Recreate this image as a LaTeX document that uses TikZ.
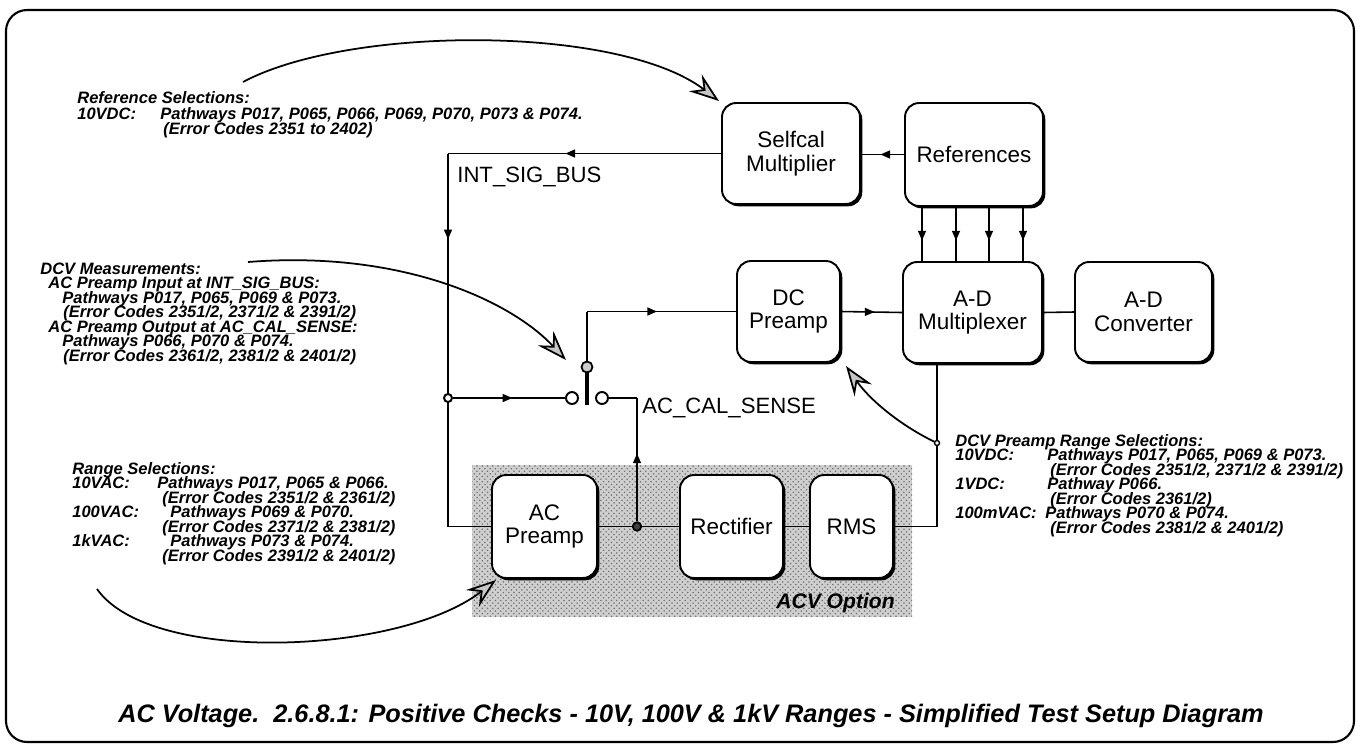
\documentclass[tikz,border=0pt]{standalone}
\usepackage{fontspec}
\setmainfont{Liberation Sans}
\newfontfamily\annfont[FakeStretch=1.0]{Liberation Sans}
\usetikzlibrary{arrows.meta,shadows,patterns,decorations.markings}
\tikzset{
  blk/.style={draw, line width=1.1pt, rounded corners=8pt, fill=white, align=center,
    font=\fontsize{12.8}{13.5}\selectfont, inner sep=0pt,
    drop shadow={shadow xshift=1.3pt, shadow yshift=-1.3pt, opacity=1, fill=black}},
  ann/.style={anchor=base west, inner sep=0pt, font=\annfont\bfseries\itshape\fontsize{9.4}{8.1}\selectfont},
  lbl/.style={anchor=base west, inner sep=0pt, font=\fontsize{12.6}{13.5}\selectfont},
  wire/.style={line width=0.9pt},
  midarrow/.style={postaction={decorate,decoration={markings,
      mark=at position #1 with {\arrow{Triangle[length=5.5pt,width=4.5pt]}}}}},
  note/.style={line width=1pt, -{Stealth[length=17pt,width=12pt,inset=6pt,fill=gray!45]}},
  contact/.style={circle, draw, line width=1.1pt, fill=white, minimum size=0.24cm, inner sep=0pt},
  jdot/.style={circle, draw, line width=1.1pt, fill=white, minimum size=0.16cm, inner sep=0pt},
  jdotb/.style={circle, draw, line width=1pt, fill=black!75, minimum size=0.17cm, inner sep=0pt},
}
\begin{document}
\begin{tikzpicture}[x=0.02cm,y=-0.02cm]
\useasboundingbox (0,0) rectangle (1360,748);
\fill[white] (0,0) rectangle (1360,748);
% outer frame
\draw[line width=1.2pt, rounded corners=12pt] (6,10) rectangle (1354,742);
% ACV option shaded area
\fill[gray!38] (472,465) rectangle (912,617);
\fill[pattern=crosshatch dots, pattern color=black!55] (472,465) rectangle (912,617);
\node[anchor=base east, inner sep=0pt, font=\bfseries\itshape\fontsize{12}{13}\selectfont] (acvopt) at (895,608) {ACV Option};

% blocks
\node[blk, minimum width=2.76cm, minimum height=2.02cm] (selfcal) at (791,153.5) {Selfcal\\Multiplier};
\node[blk, minimum width=2.76cm, minimum height=2.06cm] (refs) at (974,154.5) {References};
\node[blk, minimum width=2.06cm, minimum height=2.02cm] (dcpre) at (788.5,311.5) {DC\\Preamp};
\node[blk, minimum width=2.78cm, minimum height=2.02cm] (mux) at (972.5,312.5) {A-D\\Multiplexer};
\node[blk, minimum width=2.74cm, minimum height=2.0cm] (adc) at (1143.5,312) {A-D\\Converter};
\node[blk, minimum width=2.1cm, minimum height=2.06cm] (acpre) at (544.5,526.5) {AC\\Preamp};
\node[blk, minimum width=2.06cm, minimum height=2.06cm] (rect) at (731.5,526.5) {Rectifier};
\node[blk, minimum width=1.66cm, minimum height=2.06cm] (rms) at (851.5,526.5) {RMS};

% switch
\node[contact] (swl) at (572,398) {};
\node[contact] (swr) at (602,398) {};
\coordinate (blade) at (587,405);
\draw[line width=2.6pt] (587,367) -- (blade);
\node[circle, draw, line width=1pt, fill=gray!40, minimum size=0.22cm, inner sep=0pt] (pole) at (587,367) {};
\node[jdotb] (jn2) at (637,526.5) {};

% labels
\node[lbl] (intsig) at (457,182) {INT\_SIG\_BUS};
\node[lbl] (acsense) at (642,413) {AC\_CAL\_SENSE};

% wires
\coordinate (c1) at (448,153.5);
\coordinate (c2) at (c1 |- acpre.west);
\draw[wire, midarrow=0.57] (selfcal.west) -- (c1);
\draw[wire, midarrow=0.23] (c1) -- (c2);
\draw[wire] (c2) -- (acpre.west);
\node[jdot] (jn1) at (c1 |- swl) {};
\draw[wire, midarrow=0.53] (jn1.east) -- (swl.west);
\coordinate (c3) at (pole |- dcpre.west);
\draw[wire] (pole.north) -- (c3);
\draw[wire, midarrow=0.47] (c3) -- (dcpre.west);
\coordinate (c4) at (jn2 |- swr);
\draw[wire] (acpre.east) -- (jn2);
\draw[wire] (jn2) -- (rect.west);
\draw[wire, midarrow=0.55] (jn2.north) -- (c4);
\draw[wire] (c4) -- (swr.east);
\draw[wire] (rect.east) -- (rms.west);
\coordinate (c5) at (937,526.5);
\coordinate (c6) at (c5 |- mux.south);
\draw[wire] (rms.east) -- (c5) -- (c6);
\draw[wire, midarrow=0.55] (dcpre.east) -- (mux.west);
\draw[wire] (mux.east) -- (adc.west);
\draw[wire, midarrow=0.55] (refs.west) -- (refs.west -| selfcal.east);
\foreach \dx [count=\i] in {-52,-18,15,49} {
  \coordinate (r\i) at ([shift={(\dx,0)}]refs.south);
  \draw[wire, midarrow=0.62] (r\i) -- (r\i |- mux.north);
}
\node[circle, draw, line width=0.8pt, fill=white, minimum size=0.1cm, inner sep=0pt] (sc) at (937,443) {};

% annotation arrows
\coordinate (n1s) at (243,82);
\coordinate (n1e) at (719,101);
\draw[note] (n1s) .. controls (350,25) and (620,25) .. (n1e);
\coordinate (n2s) at (248,262);
\coordinate (n2e) at (566,360);
\draw[note] (n2s) .. controls (400,250) and (510,300) .. (n2e);
\coordinate (n3e) at (846,366);
\draw[note] (sc) .. controls (900,425) and (870,400) .. (n3e);
\coordinate (n4s) at (97,589);
\coordinate (n4e) at (496,580);
\draw[note] (n4s) .. controls (150,665) and (400,655) .. (n4e);

% annotation texts
\node[ann] (a1) at (77,103) {Reference Selections:};
\node[ann] (a2) at (77,119) {10VDC:};
\node[ann] (a3) at (160,119) {Pathways P017, P065, P066, P069, P070, P073 \& P074.};
\node[ann] (a4) at (163,134) {(Error Codes 2351 to 2402)};

\node[ann] (b1) at (40,274) {DCV Measurements:};
\node[ann] (b2) at (48,288.5) {AC Preamp Input at INT\_SIG\_BUS:};
\node[ann] (b3) at (62,303) {Pathways P017, P065, P069 \& P073.};
\node[ann] (b4) at (63,317.5) {(Error Codes 2351/2, 2371/2 \& 2391/2)};
\node[ann] (b5) at (48,332) {AC Preamp Output at AC\_CAL\_SENSE:};
\node[ann] (b6) at (62,346.5) {Pathways P066, P070 \& P074.};
\node[ann] (b7) at (63,361) {(Error Codes 2361/2, 2381/2 \& 2401/2)};

\node[ann] (d1) at (72,474) {Range Selections:};
\node[ann] (d2) at (72,488.5) {10VAC:};
\node[ann] (d3) at (157,488.5) {Pathways P017, P065 \& P066.};
\node[ann] (d4) at (162,503) {(Error Codes 2351/2 \& 2361/2)};
\node[ann] (d5) at (72,517.5) {100VAC:};
\node[ann] (d6) at (170,517.5) {Pathways P069 \& P070.};
\node[ann] (d7) at (162,532) {(Error Codes 2371/2 \& 2381/2)};
\node[ann] (d8) at (72,546.5) {1kVAC:};
\node[ann] (d9) at (170,546.5) {Pathways P073 \& P074.};
\node[ann] (d10) at (162,561) {(Error Codes 2391/2 \& 2401/2)};

\node[ann] (e1) at (955,446) {DCV Preamp Range Selections:};
\node[ann] (e2) at (955,460.5) {10VDC:};
\node[ann] (e3) at (1047,460.5) {Pathways P017, P065, P069 \& P073.};
\node[ann] (e4) at (1050,475) {(Error Codes 2351/2, 2371/2 \& 2391/2)};
\node[ann] (e5) at (955,489.5) {1VDC:};
\node[ann] (e6) at (1047,489.5) {Pathway P066.};
\node[ann] (e7) at (1050,504) {(Error Codes 2361/2)};
\node[ann] (e8) at (955,518.5) {100mVAC:};
\node[ann] (e9) at (1045,518.5) {Pathways P070 \& P074.};
\node[ann] (e10) at (1050,533) {(Error Codes 2381/2 \& 2401/2)};

% caption
\node[inner sep=0pt, font=\bfseries\itshape\fontsize{14.4}{16}\selectfont] (caption) at (691,716)
  {AC Voltage.\ \ 2.6.8.1: Positive Checks - 10V, 100V \& 1kV Ranges - Simplified Test Setup Diagram};
\end{tikzpicture}
\end{document}
